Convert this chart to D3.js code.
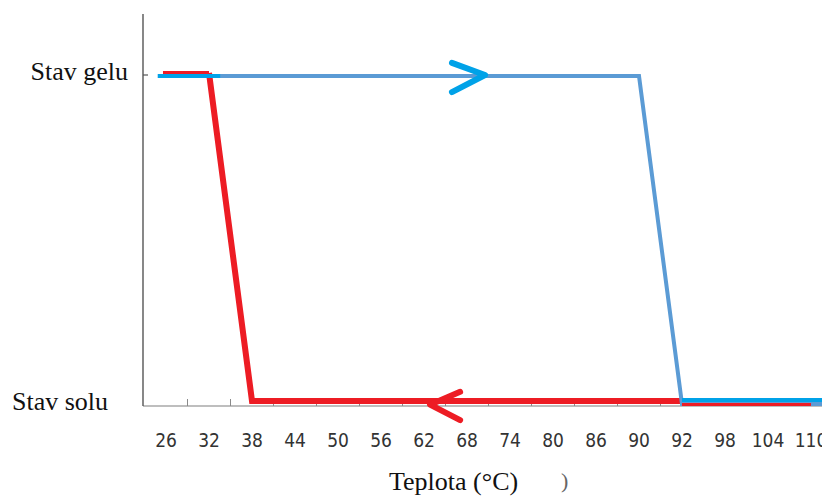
<!DOCTYPE html>
<html><head><meta charset="utf-8">
<script src="https://cdn.jsdelivr.net/npm/d3@7/dist/d3.min.js"></script>
<style>body{margin:0;background:#fff}svg{display:block}</style>
</head><body>
<svg id="c" width="822" height="497"></svg>
<script>
const categories = ["26","32","38","44","50","56","62","68","74","80","86","90","92","98","104","110"];
const stateLabels = ["Stav solu","Stav gelu"];
// heating curve (blue): positions in category-index units, state 1=gel 0=sol
const heatingPos = [-0.19, 11, 12, 15.3];
const heatingState = [1, 1, 0, 0];
// cooling curve (red)
const coolingPos = [-0.07, 1, 2, 15.0];
const coolingState = [1, 1, 0, 0];
const axisTitle = "Teplota (°C)";

const svg = d3.select("#c");
const x = d3.scaleLinear().domain([0, categories.length - 1]).range([166, 811]);
const y = d3.scaleLinear().domain([0, 1]).range([403, 75]);
const axisY = 406, axisX = 143;

// axes lines
svg.append("line").attr("x1", axisX).attr("x2", 822).attr("y1", axisY).attr("y2", axisY)
  .attr("stroke", "#7f7f7f").attr("stroke-width", 1.2);
svg.append("line").attr("x1", axisX).attr("x2", axisX).attr("y1", 14).attr("y2", axisY)
  .attr("stroke", "#555").attr("stroke-width", 1.4);
// x ticks at category boundaries
svg.append("g").selectAll("line").data(d3.range(0, categories.length - 1))
  .join("line").attr("x1", i => x(i + 0.5)).attr("x2", i => x(i + 0.5))
  .attr("y1", axisY).attr("y2", axisY - 7).attr("stroke", "#8a8a8a").attr("stroke-width", 1);
// y tick
svg.append("line").attr("x1", axisX).attr("x2", axisX + 5).attr("y1", y(1)).attr("y2", y(1))
  .attr("stroke", "#555").attr("stroke-width", 1.2);

// tick labels
svg.append("g").selectAll("text").data(categories).join("text")
  .attr("x", (d, i) => x(i)).attr("y", 447).attr("text-anchor", "middle")
  .attr("font-family", "DejaVu Sans Condensed, Liberation Sans Narrow, Arial Narrow, sans-serif")
  .attr("font-size", 19).attr("fill", "#333").text(d => d);

// y labels
svg.append("text").attr("x", 128).attr("y", 80).attr("text-anchor", "end")
  .attr("font-family", "Liberation Serif, Times New Roman, serif").attr("font-size", 26)
  .attr("fill", "#111").text(stateLabels[1]);
svg.append("text").attr("x", 12).attr("y", 410).attr("text-anchor", "start")
  .attr("font-family", "Liberation Serif, Times New Roman, serif").attr("font-size", 26)
  .attr("fill", "#111").text(stateLabels[0]);
// x title
svg.append("text").attr("x", 389).attr("y", 490)
  .attr("font-family", "Liberation Serif, Times New Roman, serif").attr("font-size", 26)
  .attr("fill", "#111").text(axisTitle);
svg.append("text").attr("x", 561).attr("y", 488)
  .attr("font-family", "Liberation Serif, Times New Roman, serif").attr("font-size", 22)
  .attr("fill", "#666").text(")");

const line = d3.line().x(d => x(d[0])).y(d => y(d[1]));
const heat = heatingPos.map((p, i) => [p, heatingState[i]]);
const cool = coolingPos.map((p, i) => [p, coolingState[i]]);

// cooling (red)
svg.append("path").attr("d", line(cool.slice(1))).attr("fill", "none")
  .attr("stroke", "#ed1c24").attr("stroke-width", 6).attr("transform", "translate(0,-2)");
svg.append("path").attr("d", line(cool.slice(0, 2))).attr("fill", "none")
  .attr("stroke", "#ed1c24").attr("stroke-width", 4).attr("transform", "translate(0,-2)");
// heating (blue)
svg.append("path").attr("d", line(heat)).attr("fill", "none")
  .attr("stroke", "#5b9bd5").attr("stroke-width", 4).attr("transform", "translate(0,1)");
// bright overlays on heating curve
svg.append("path").attr("d", line([heat[0], [1.26, 1]])).attr("fill", "none")
  .attr("stroke", "#00a2e8").attr("stroke-width", 4).attr("transform", "translate(0,1)");
svg.append("path").attr("d", line([heat[2], heat[3]])).attr("fill", "none")
  .attr("stroke", "#00a2e8").attr("stroke-width", 4).attr("transform", "translate(0,-3)");
// cooling tail visible under blue
svg.append("path").attr("d", line([[12, 0], cool[3]])).attr("fill", "none")
  .attr("stroke", "#ed1c24").attr("stroke-width", 3).attr("transform", "translate(0,1.5)");

// arrows
const arrowBlue = [[6.65, 1.037], [7.42, 1], [6.65, 0.948]];
svg.append("path").attr("d", line(arrowBlue)).attr("fill", "none")
  .attr("stroke", "#00a2e8").attr("stroke-width", 6).attr("stroke-linecap", "round")
  .attr("stroke-linejoin", "round");
const arrowRed = [[6.84, 0.034], [6.14, -0.005], [6.84, -0.052]];
svg.append("path").attr("d", line(arrowRed)).attr("fill", "none")
  .attr("stroke", "#ed1c24").attr("stroke-width", 6).attr("stroke-linecap", "round")
  .attr("stroke-linejoin", "round");
</script>
</body></html>
